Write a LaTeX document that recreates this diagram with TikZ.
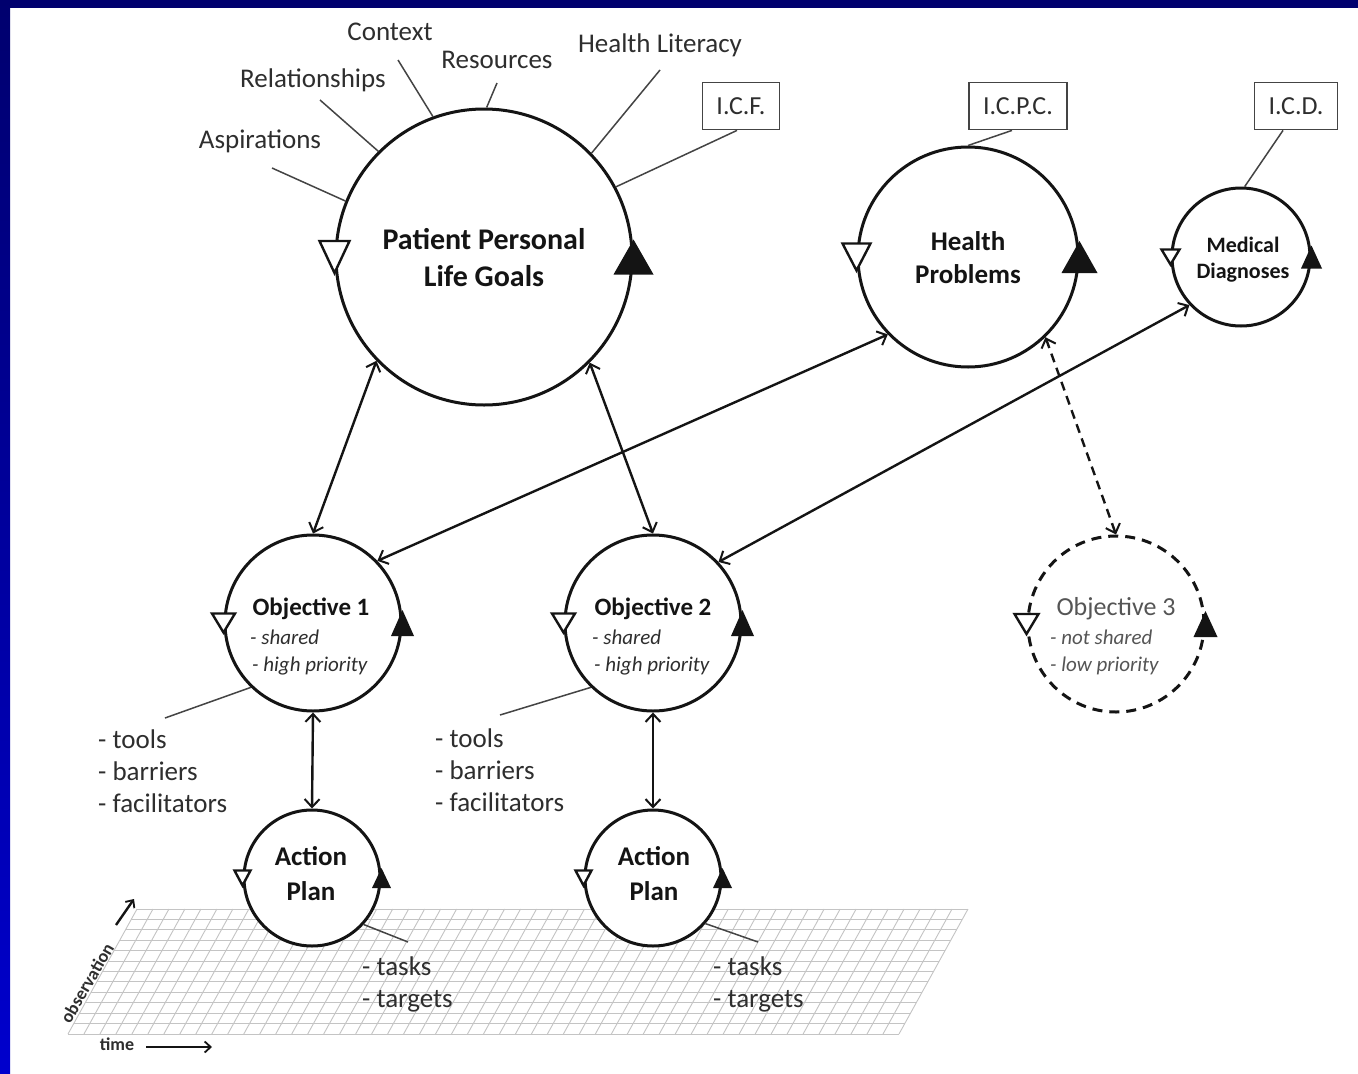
\documentclass[tikz,border=0pt]{standalone}
\usepackage{fontspec}
\setmainfont{Carlito}
\usetikzlibrary{arrows.meta,calc}
\definecolor{ink}{HTML}{141414}
\definecolor{txt}{HTML}{2E2E2E}
\definecolor{lin}{HTML}{444444}
\definecolor{navyb}{RGB}{0,0,110}
\definecolor{blueb}{RGB}{0,0,205}
\definecolor{gridc}{HTML}{C4C4C4}
\definecolor{grayt}{HTML}{555555}
\newcommand\cyctri[5]{%
  \draw[line width=2.4pt, draw=ink, fill=white] ($(#1.west)+(-#2,-#3/2)$) -- ($(#1.west)+(#2,-#3/2)$) -- ($(#1.west)+(0,#3/2)$) -- cycle;
  \fill[ink] ($(#1.east)+(-#4,#5/2)$) -- ($(#1.east)+(#4,#5/2)$) -- ($(#1.east)+(0,-#5/2)$) -- cycle;}
\begin{document}
\begin{tikzpicture}[x=1pt,y=-1pt,
  circ/.style={circle, draw=ink, line width=3pt, fill=white, inner sep=0pt, minimum size=#1},
  ttl/.style={font=\bfseries\fontsize{#1}{#1}\selectfont, text=ink, inner sep=0pt, anchor=base},
  lbl/.style={font=\fontsize{27}{30}\selectfont, text=txt, inner sep=0pt, anchor=base},
  lbll/.style={font=\fontsize{27}{30}\selectfont, text=txt, inner sep=0pt, anchor=base west},
  sub/.style={font=\itshape\fontsize{21}{24}\selectfont, text=txt, inner sep=0pt, anchor=base west},
  tick/.style={line width=1.5pt, draw=lin},
  codebox/.style={draw=lin, line width=1.8pt, fill=white, minimum height=47pt, inner xsep=14pt, font=\fontsize{26}{28}\selectfont, text=txt},
  conn/.style={line width=2.4pt, draw=ink, {Straight Barb[length=8pt,width=15pt,line width=2pt]}-{Straight Barb[length=8pt,width=15pt,line width=2pt]}},
  gridline/.style={draw=gridc, line width=0.9pt}
]
\useasboundingbox (0,0) rectangle (1358,1074);
\fill[white] (0,0) rectangle (1358,1074);
\fill[navyb] (0,0) rectangle (1358,8);
\shade[top color=navyb, bottom color=blueb] (0,0) rectangle (10,1074);

% grid floor
\begin{scope}[gridline]
\foreach \k in {0,...,12} {
  \pgfmathsetmacro\yy{909+\k*10.416667}
  \pgfmathsetmacro\xs{\k*5.75}
  \draw (137-\xs,\yy) -- (968-\xs,\yy);
}
\foreach \i in {0,...,52} {
  \pgfmathsetmacro\xx{137+\i*15.980769}
  \draw (\xx,909) -- (\xx-69,1034);
}
\end{scope}

% circles
\node[circ=296pt] (ppl) at (484,257) {};
\node[circ=220pt] (hp) at (968,257) {};
\node[circ=138pt] (md) at (1241,257) {};
\node[circ=176pt] (o1) at (313,623) {};
\node[circ=176pt] (o2) at (653,623) {};
\node[circ=176pt, dash pattern=on 10pt off 7pt] (o3) at (1116,624) {};
\node[circ=136pt] (ap1) at (312,878) {};
\node[circ=136pt] (ap2) at (653,878) {};

% cycle triangles
\cyctri{ppl}{15}{32}{20}{35}
\cyctri{hp}{14}{27}{18}{32}
\cyctri{md}{9}{15}{10.5}{23}
\cyctri{o1}{11.5}{19}{11.5}{26}
\cyctri{o2}{11.5}{19}{11.5}{26}
\cyctri{o3}{12}{20}{12}{26}
\cyctri{ap1}{8}{15}{9.5}{20}
\cyctri{ap2}{8}{15}{9.5}{20}

% titles
\node[ttl=30] (pplA) at (484,249) {Patient Personal};
\node[ttl=30] (pplB) at (484,286) {Life Goals};
\node[ttl=27] (hpA) at (968,250) {Health};
\node[ttl=27] (hpB) at (968,283) {Problems};
\node[ttl=22] (mdA) at (1243,252) {Medical};
\node[ttl=22] (mdB) at (1243,278) {Diagnoses};
\node[ttl=27] (ap1A) at (311,865) {Action};
\node[ttl=27] (ap1B) at (311,900) {Plan};
\node[ttl=27] (ap2A) at (654,865) {Action};
\node[ttl=27] (ap2B) at (654,900) {Plan};

\node[ttl=25] (o1A) at (311,615) {Objective 1};
\node[sub] (o1B) at (250,644) {- shared};
\node[sub] (o1C) at (252,671) {- high priority};
\node[ttl=25] (o2A) at (653,615) {Objective 2};
\node[sub] (o2B) at (592,644) {- shared};
\node[sub] (o2C) at (594,671) {- high priority};
\node[font=\fontsize{26}{28}\selectfont, text=grayt, inner sep=0pt, anchor=base] (o3A) at (1116,615) {Objective 3};
\node[sub, text=grayt] (o3B) at (1050,644) {- not shared};
\node[sub, text=grayt] (o3C) at (1050,671) {- low priority};

% outer labels
\node[lbl] (asp) at (260,148) {Aspirations};
\node[lbl] (rel) at (313,87) {Relationships};
\node[lbl] (ctx) at (390,40) {Context};
\node[lbl] (res) at (497,68) {Resources};
\node[lbl] (hl) at (660,52) {Health Literacy};
\node[codebox] (icf) at (741,106) {I.C.F.};
\node[codebox] (icpc) at (1018,106) {I.C.P.C.};
\node[codebox] (icd) at (1296,106) {I.C.D.};

\coordinate (aspE) at (272,168);
\coordinate (relE) at (320,100);
\coordinate (ctxE) at (398,60);
\coordinate (resE) at (497,83);
\coordinate (hlE) at (660,70);
\draw[tick] (aspE) -- (ppl.158);
\draw[tick] (relE) -- (ppl.135);
\draw[tick] (ctxE) -- (ppl.110);
\draw[tick] (resE) -- (ppl.89);
\draw[tick] (hlE) -- (ppl.44);
\draw[tick] ([xshift=-4pt]icf.south) -- (ppl.28);
\draw[tick] ([xshift=-6pt]icpc.south) -- (hp.90);
\draw[tick] ([xshift=-13pt]icd.south) -- (md.87);

% tools / tasks
\node[lbll] (t1a) at (98,748) {- tools};
\node[lbll] (t1b) at (98,780) {- barriers};
\node[lbll] (t1c) at (98,812) {- facilitators};
\node[lbll] (t2a) at (435,747) {- tools};
\node[lbll] (t2b) at (435,779) {- barriers};
\node[lbll] (t2c) at (435,811) {- facilitators};
\node[lbll] (k1a) at (362,975) {- tasks};
\node[lbll] (k1b) at (362,1007) {- targets};
\node[lbll] (k2a) at (713,975) {- tasks};
\node[lbll] (k2b) at (713,1007) {- targets};
\coordinate (t1E) at (165,718);
\coordinate (t2E) at (500,715);
\coordinate (k1E) at (408,942);
\coordinate (k2E) at (758,942);
\draw[tick] (o1.226) -- (t1E);
\draw[tick] (o2.226) -- (t2E);
\draw[tick] (ap1.318) -- (k1E);
\draw[tick] (ap2.319) -- (k2E);

% connectors
\draw[conn] (ppl.224) -- (o1.90);
\draw[conn] (ppl.315.5) -- (o2.90);
\draw[conn] (o1.44.5) -- (hp.224.6);
\draw[conn] (o2.43.6) -- (md.223.8);
\draw[conn, dash pattern=on 9pt off 6pt] (hp.314.6) -- (o3.90);
\draw[conn] (o1.270) -- (ap1.90);
\draw[conn] (o2.270) -- (ap2.90);

% axes
\node[rotate=60, font=\bfseries\fontsize{18}{20}\selectfont, text=txt, inner sep=0pt] (obs) at (87,983) {observation};
\coordinate (obsA) at (116,925);
\coordinate (obsB) at (134,899);
\draw[line width=2.4pt, draw=ink, -{Straight Barb[length=6pt,width=11pt,line width=1.8pt]}] (obsA) -- (obsB);
\node[font=\bfseries\fontsize{18}{20}\selectfont, text=txt, inner sep=0pt] (tim) at (117,1044) {time};
\coordinate (timA) at (146,1047);
\coordinate (timB) at (212,1047);
\draw[line width=2.4pt, draw=ink, -{Straight Barb[length=6pt,width=11pt,line width=1.8pt]}] (timA) -- (timB);
\end{tikzpicture}
\end{document}
